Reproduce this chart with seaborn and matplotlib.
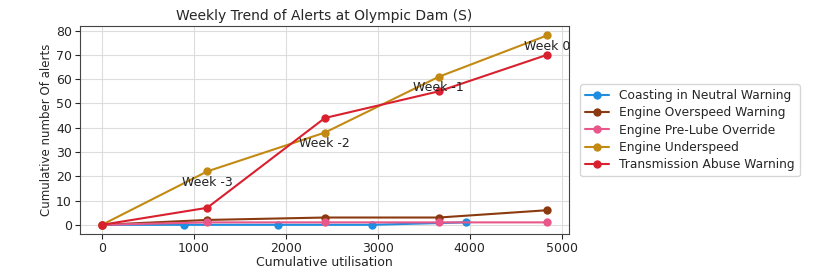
import pandas as pd
import numpy as np
import matplotlib
matplotlib.use("Agg")
import matplotlib.pyplot as plt
import seaborn as sns

sns.set_style("ticks")

# Cumulative alerts per alert type against cumulative utilisation
coasting_x = [0, 891, 1920, 2940, 3957]
coasting_y = [0, 0, 0, 0, 1]

week_x = [0, 1145, 2425, 3665, 4840]
overspeed_y = [0, 2, 3, 3, 6]
prelube_y = [0, 1, 1, 1, 1]
underspeed_y = [0, 22, 38, 61, 78]
transmission_y = [0, 7, 44, 55, 70]

week_labels = ["Week -3", "Week -2", "Week -1", "Week 0"]

series = {
    'Coasting in Neutral Warning': (coasting_x, coasting_y),
    'Engine Overspeed Warning': (week_x, overspeed_y),
    'Engine Pre-Lube Override': (week_x, prelube_y),
    'Engine Underspeed': (week_x, underspeed_y),
    'Transmission Abuse Warning': (week_x, transmission_y),
}
colors = ['#1f8ee0', '#8b3a0f', '#e8578a', '#c28a12', '#d9202f']

rows = []
for name, (xs, ys) in series.items():
    for x, y in zip(xs, ys):
        rows.append({'Alert': name, 'Utilisation': x, 'Alerts': y})
df = pd.DataFrame(rows)

fig, ax = plt.subplots(figsize=(8.13, 2.74), dpi=100)
sns.lineplot(data=df, x='Utilisation', y='Alerts', hue='Alert',
             palette=colors, marker='o', markersize=6, markeredgewidth=0,
             linewidth=1.5, ax=ax)

# week labels under the underspeed points
for x, y, lab in zip(week_x[1:], underspeed_y[1:], week_labels):
    ax.annotate(lab, (x, y), xytext=(0, -8), textcoords='offset points',
                ha='center', va='center', fontsize=9, color='#222222')

ax.grid(True, color='#dddddd', linewidth=0.8)
ax.set_title('Weekly Trend of Alerts at Olympic Dam (S)', fontsize=10, pad=4)
ax.set_xlabel('Cumulative utilisation', fontsize=9, labelpad=1)
ax.set_ylabel('Cumulative number Of alerts', fontsize=8.5, labelpad=2)
ax.tick_params(labelsize=9, pad=2)
ax.set_yticks(np.arange(0, 81, 10))
ax.set_xticks(np.arange(0, 5001, 1000))
for s in ax.spines.values():
    s.set_color('#444444')

ax.legend(loc='center left', bbox_to_anchor=(1.01, 0.5), fontsize=8.8,
          frameon=True, borderpad=0.4, labelspacing=0.35)

plt.subplots_adjust(left=0.098, right=0.70, top=0.905, bottom=0.145)
plt.savefig('out.png', dpi=100)
